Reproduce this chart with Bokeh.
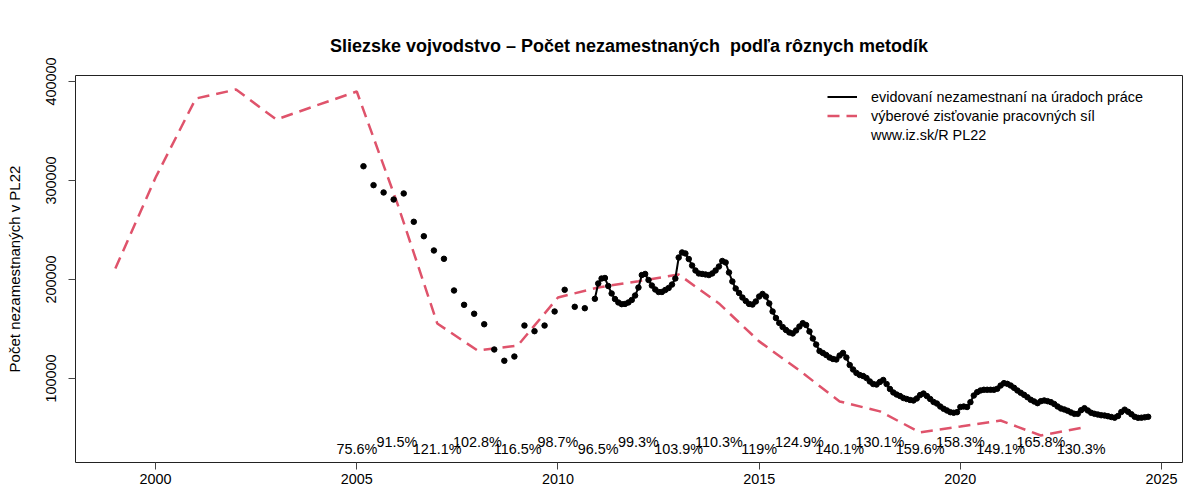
import numpy as np
import pandas as pd
from bokeh.plotting import figure
from bokeh.models import Range1d, FixedTicker, Legend, LegendItem, ColumnDataSource
from bokeh.core.properties import value
from bokeh.embed import file_html
from bokeh.resources import INLINE

# ---------------- data ----------------
vzps_years = list(range(1999, 2024))
vzps_values = [211100, 303000, 382800, 391900, 361600, 375800, 389900, 277800,
               155600, 128300, 133300, 181800, 192000, 198300, 205100, 175800,
               137500, 108100, 76800, 66800, 45500, 51500, 57600, 42400, 50000]

# registered unemployed, quarterly (Mar 2005 .. Sep 2010)
evid_q_start = "2005-03"
evid_q_values = [314400, 295300, 287900, 280800,
                 286900, 258300, 243700, 229300,
                 220900, 188900, 174400, 165400,
                 154800, 129300, 117900, 122200,
                 153500, 147800, 153500, 167700,
                 189600, 172400, 171000]

# registered unemployed, monthly (Dec 2010 .. Sep 2024)
evid_m_start = "2010-12"
evid_m_values = [180500,
    196000, 201000, 201500, 193400, 185900, 180300, 176800, 175100, 175300, 176800, 179300, 183800,
    191900, 204500, 205600, 199500, 193900, 189900, 187400, 187400, 189400, 191400, 194900, 201000,
    222200, 227300, 226300, 220700, 214100, 209100, 206100, 205600, 205100, 204500, 206100, 209100,
    213100, 218700, 217200, 207100, 198000, 190900, 186400, 181800, 178300, 175300, 174700, 177800,
    182800, 185400, 182800, 175800, 167700, 161100, 156100, 152000, 149000, 146500, 145500, 148500,
    152500, 155900, 154000, 147500, 140400, 134300, 127800, 125800, 123700, 121200, 119700, 119200,
    123200, 125800, 121200, 113600, 109100, 105600, 103500, 102500, 100500, 97000, 94400, 93900,
    96500, 98500, 94400, 89400, 85900, 83800, 82300, 80300, 79300, 78300, 77800, 79800,
    83300, 84800, 82300, 79300, 76300, 74700, 71700, 69400, 67700, 66000, 65400, 66000,
    71200, 71700, 71200, 76100, 82800, 86200, 87900, 88600, 88600, 88600, 88600, 89600,
    92900, 95300, 94600, 92900, 90600, 87900, 85600, 83500, 81100, 78500, 76800, 75100,
    77100, 77800, 77100, 76100, 74200, 71700, 69700, 68700, 67400, 65700, 64300, 64300,
    68000, 70000, 67700, 65400, 64300, 63600, 62900, 62600, 61900, 61100, 60400, 62100,
    66200, 68500, 66400, 63900, 61300, 60300, 60400, 60800, 61300]

pct_years = list(range(2005, 2024))
pct_labels = ["75.6%", "91.5%", "121.1%", "102.8%", "116.5%", "98.7%", "96.5%",
              "99.3%", "103.9%", "110.3%", "119%", "124.9%", "140.1%", "130.1%",
              "159.6%", "158.3%", "149.1%", "165.8%", "130.3%"]

x_ticks = [2000, 2005, 2010, 2015, 2020, 2025]
y_ticks = [100000, 200000, 300000, 400000]

title_text = "Sliezske vojvodstvo \u2013 Po\u010det nezamestnan\u00fdch \u00a0pod\u013ea r\u00f4znych metod\u00edk"
y_label = "Po\u010det nezamestnan\u00fdch v PL22"
legend_labels = ["evidovan\u00ed nezamestnan\u00ed na \u00faradoch pr\u00e1ce",
                 "v\u00fdberov\u00e9 zis\u0165ovanie pracovn\u00fdch s\u00edl",
                 "www.iz.sk/R PL22"]

# ---------------- helpers ----------------
def dec_year(start, n, freq_months):
    d = pd.date_range(start=start, periods=n, freq=f"{freq_months}MS")
    return d.year + (d.month - 1) / 12.0

q_x = dec_year(evid_q_start, len(evid_q_values), 3)
m_x = dec_year(evid_m_start, len(evid_m_values), 1)

FONT = "Liberation Sans"
RED = "#DF536B"

p = figure(width=1200, height=500,
           x_range=Range1d(1998.01, 2025.52), y_range=Range1d(15150, 406060),
           output_backend="svg", toolbar_location=None,
           min_border_left=75, min_border_right=18, min_border_top=75, min_border_bottom=38)
p.background_fill_color = "white"
p.border_fill_color = "white"
p.grid.visible = False
p.outline_line_color = "#222222"
p.outline_line_width = 1

p.title.text = title_text
p.title.align = "center"
p.title.text_font = FONT
p.title.text_font_size = "18px"
p.title.text_font_style = "bold"
p.title.text_color = "black"
p.title.standoff = 40

for ax in (p.xaxis, p.yaxis):
    ax.axis_line_color = None
    ax.major_tick_line_color = "#444444"
    ax.major_tick_out = 7
    ax.major_tick_in = 0
    ax.minor_tick_line_color = None
    ax.major_label_text_font = FONT
    ax.major_label_text_font_size = "14.4px"
    ax.major_label_text_color = "black"

p.xaxis.ticker = FixedTicker(ticks=x_ticks)
p.xaxis.major_label_standoff = 4
p.yaxis.ticker = FixedTicker(ticks=y_ticks)
p.yaxis.major_label_orientation = "vertical"
p.yaxis.major_label_standoff = 12
p.yaxis.formatter.use_scientific = False
p.yaxis.axis_label = y_label
p.yaxis.axis_label_text_font = FONT
p.yaxis.axis_label_text_font_size = "15px"
p.yaxis.axis_label_text_font_style = "normal"
p.yaxis.axis_label_text_color = "black"
p.yaxis.axis_label_standoff = 21

# VZPS dashed line
r_vzps = p.line(vzps_years, vzps_values, line_color=RED, line_width=2.5, line_dash="12 7")

# registered unemployed
r_evid = p.line(m_x, evid_m_values, line_color="black", line_width=2)
p.scatter(m_x, evid_m_values, size=5.5, color="black")
p.scatter(q_x, evid_q_values, size=5.5, color="black")

# percentage labels
pct_y = [28300 if i % 2 == 0 else 35400 for i in range(len(pct_years))]
src = ColumnDataSource(dict(x=pct_years, y=pct_y, t=pct_labels))
p.text(x="x", y="y", text="t", source=src, text_align="center", text_baseline="middle",
       text_font=value(FONT), text_font_size="14.4px", text_color="black")

r_dummy = p.line(x=[], y=[], line_alpha=0)

legend = Legend(items=[LegendItem(label=legend_labels[0], renderers=[r_evid]),
                       LegendItem(label=legend_labels[1], renderers=[r_vzps]),
                       LegendItem(label=legend_labels[2], renderers=[r_dummy])],
                location=(752, 318))
legend.border_line_color = None
legend.background_fill_alpha = 0
legend.padding = 0
legend.margin = 0
legend.spacing = 0
legend.glyph_width = 30
legend.glyph_height = 19
legend.label_height = 19
legend.label_standoff = 14
legend.label_text_font = FONT
legend.label_text_font_size = "14.4px"
legend.label_text_color = "black"
p.add_layout(legend, "center")

open("out.html", "w").write(file_html(p, INLINE))
